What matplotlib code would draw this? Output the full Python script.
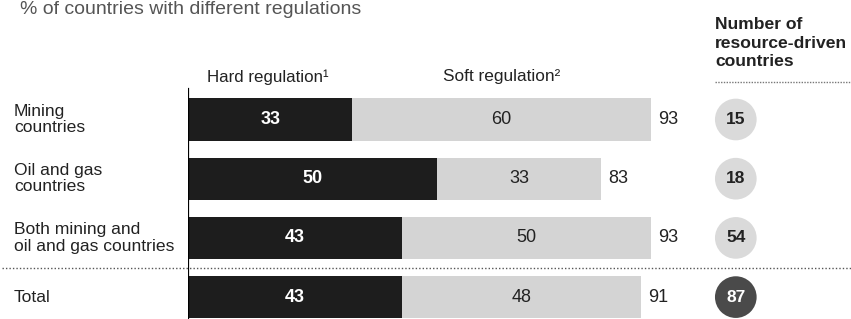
import matplotlib
matplotlib.use('Agg')
import matplotlib.pyplot as plt
from matplotlib.lines import Line2D
from matplotlib.transforms import blended_transform_factory

# ---- data ----
categories = ["Mining\ncountries", "Oil and gas\ncountries",
              "Both mining and\noil and gas countries", "Total"]
hard = [33, 50, 43, 43]
soft = [60, 33, 50, 48]
totals = [93, 83, 93, 91]
num_countries = [15, 18, 54, 87]
title = "% of countries with different regulations"
hard_label = "Hard regulation\u00b9"
soft_label = "Soft regulation\u00b2"
count_header = "Number of\nresource-driven\ncountries"

plt.rcParams['font.family'] = ['Liberation Sans', 'DejaVu Sans']

W, H = 851, 319
fig = plt.figure(figsize=(W / 100, H / 100), dpi=100)

ax_left_px = 188
px_per_unit = 4.98
row0_px = 119.5
pitch = 59.2
ax = fig.add_axes([ax_left_px / W, 0, 1 - ax_left_px / W, 1])
ax.set_xlim(0, (W - ax_left_px) / px_per_unit)
ax.set_ylim((H - row0_px) / pitch, -row0_px / pitch)
ax.axis('off')

ypos = list(range(len(categories)))
ax.barh(ypos, hard, height=0.71, color='#1d1d1d')
ax.barh(ypos, soft, left=hard, height=0.71, color='#d4d4d4')

for i in ypos:
    ax.text(hard[i] / 2, i, str(hard[i]), ha='center', va='center',
            color='white', fontweight='bold', fontsize=13)
    ax.text(hard[i] + soft[i] / 2, i, str(soft[i]), ha='center', va='center',
            color='#222222', fontsize=13)
    ax.text(totals[i] + 1.4, i, str(totals[i]), ha='left', va='center',
            color='#222222', fontsize=13)

circle_x = 110
circle_colors = ['#dadada', '#dadada', '#dadada', '#4a4a4a']
text_colors = ['#222222', '#222222', '#222222', 'white']
ax.scatter([circle_x] * len(ypos), ypos, s=900, color=circle_colors,
           zorder=3, linewidths=0)
for i in ypos:
    ax.text(circle_x, i, str(num_countries[i]), ha='center', va='center',
            color=text_colors[i], fontweight='bold', fontsize=12.5, zorder=4)

# axis line
ax.axvline(0, ymin=0, ymax=1 - 89 / H, color='black', lw=1.6)

# row labels
tr = blended_transform_factory(fig.transFigure, ax.transData)
for i, c in enumerate(categories):
    ax.text(14 / W, i, c, transform=tr, ha='left', va='center',
            fontsize=12.6, color='#222222', linespacing=1.1)

# headers
fig.text(207 / W, 1 - 77 / H, hard_label, ha='left', va='center',
         fontsize=12.2, color='#222222')
fig.text(443 / W, 1 - 76 / H, soft_label, ha='left', va='center',
         fontsize=12.4, color='#222222')
fig.text(715 / W, 1 - 17 / H, count_header, ha='left', va='top',
         fontsize=12.6, fontweight='bold', color='#222222', linespacing=1.3)
fig.text(20 / W, 1 - 1 / H, title, ha='left', va='top',
         fontsize=14, color='#555555')

# lines
fig.add_artist(Line2D([715 / W, 1], [1 - 82 / H] * 2, transform=fig.transFigure,
                      color='#777777', lw=1.0, linestyle=(0, (1, 1))))
fig.add_artist(Line2D([2 / W, 1], [1 - 268 / H] * 2, transform=fig.transFigure,
                      color='#555555', lw=1.0, linestyle=(0, (1, 1.5))))

fig.savefig('out.png', dpi=100)
